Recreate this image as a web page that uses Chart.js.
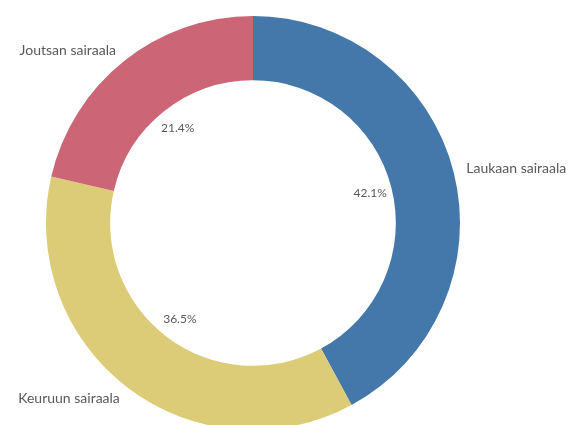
<!DOCTYPE html>
<html>
<head>
<meta charset="utf-8">
<script src="https://cdn.jsdelivr.net/npm/chart.js@4.4.0/dist/chart.umd.min.js"></script>
<style>
  html, body { margin: 0; padding: 0; background: #fff; overflow: hidden; }
  #myChart { display: block; }
</style>
</head>
<body>
<canvas id="myChart" width="579" height="440"></canvas>
<script>
const labels = ['Laukaan sairaala', 'Keuruun sairaala', 'Joutsan sairaala'];
const valeurs = [42.1, 36.5, 21.4];
const couleurs = ['#4477aa', '#ddcc77', '#cc6677'];

// labels: percentage inside the hole, name outside the ring
const etiquettes = {
    id: 'etiquettes',
    afterDatasetsDraw(chart){
        const ctx = chart.ctx;
        const arcs = chart.getDatasetMeta(0).data;
        ctx.save();
        ctx.fillStyle = '#595959';
        ctx.textBaseline = 'middle';
        arcs.forEach(function(arc, i){
            const p = arc.getProps(['x','y','startAngle','endAngle','innerRadius','outerRadius'], true);
            const mid = (p.startAngle + p.endAngle) / 2;
            const cos = Math.cos(mid), sin = Math.sin(mid);

            const rIn = p.innerRadius - 22;
            ctx.font = '12px Lato, sans-serif';
            ctx.textAlign = 'center';
            ctx.fillText(valeurs[i].toFixed(1) + '%', p.x + cos * rIn, p.y + sin * rIn);

            const rOut = p.outerRadius + 13;
            ctx.font = '14px Lato, sans-serif';
            ctx.textAlign = cos >= 0 ? 'left' : 'right';
            ctx.fillText(labels[i], p.x + cos * rOut, p.y + sin * rOut);
        });
        ctx.restore();
    }
};

const can = document.getElementById('myChart');
new Chart(can, {
    type: 'doughnut',
    data: {
        labels: labels,
        datasets: [{
            data: valeurs,
            backgroundColor: couleurs,
            borderWidth: 0
        }]
    },
    options: {
        responsive: false,
        maintainAspectRatio: false,
        animation: false,
        cutout: '69%',
        layout: { padding: { top: 16, bottom: 10, left: 46, right: 119 } },
        plugins: {
            legend: { display: false },
            tooltip: { enabled: false }
        }
    },
    plugins: [etiquettes]
});
</script>
</body>
</html>
